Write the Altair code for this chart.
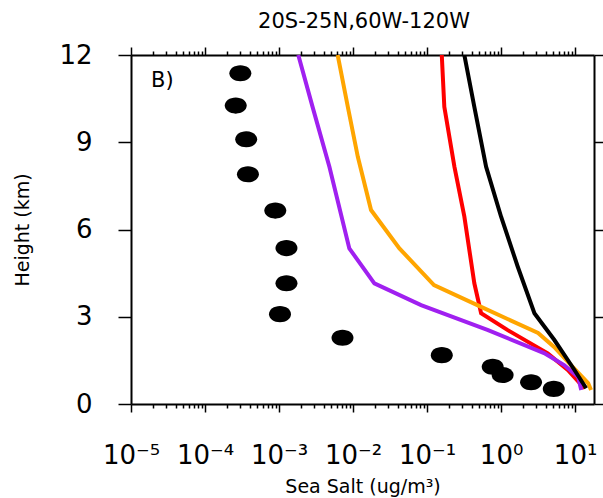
import json
import altair as alt
import pandas as pd

# ---------------- data ----------------
series_names = ["purple", "orange", "red", "black"]
series_colors = ["#A020F0", "#FFA500", "#FF0000", "#000000"]

purple_h = [12.0, 10.2, 8.15, 5.35, 4.15, 3.40, 2.54, 1.75, 1.34, 0.93, 0.48]
purple_v = [1.82e-3, 2.85e-3, 4.8e-3, 8.9e-3, 0.0194, 0.083, 0.667, 3.81, 7.1, 11.0, 12.1]

orange_h = [12.0, 10.22, 8.5, 6.67, 5.35, 4.09, 3.34, 2.44, 1.96, 1.34, 0.72, 0.48]
orange_v = [6.2e-3, 8.5e-3, 0.0116, 0.0175, 0.0423, 0.124, 0.537, 3.16, 5.2, 8.8, 15.0, 16.4]

red_h = [12.0, 10.22, 8.16, 6.44, 4.15, 3.12, 2.54, 1.74, 1.17, 0.54]
red_v = [0.158, 0.171, 0.234, 0.319, 0.435, 0.537, 1.23, 4.27, 7.96, 13.4]

black_h = [12.0, 10.22, 8.16, 6.44, 4.72, 3.12, 2.2, 1.17, 0.54]
black_v = [0.319, 0.435, 0.627, 1.0, 1.68, 2.82, 5.25, 9.8, 14.1]

obs_h = [11.37, 10.26, 9.10, 7.90, 6.65, 5.36, 4.15, 3.09, 2.28, 1.68, 1.28, 1.0, 0.75, 0.52]
obs_v = [3.0e-4, 2.6e-4, 3.6e-4, 3.8e-4, 8.9e-4, 1.26e-3, 1.26e-3, 1.03e-3, 7.2e-3,
         0.158, 0.77, 1.05, 2.54, 5.15]

x_tick_labels = ["10\u207b\u2075", "10\u207b\u2074", "10\u207b\u00b3", "10\u207b\u00b2",
                 "10\u207b\u00b9", "10\u2070", "10\u00b9"]
y_tick_values = [0, 3, 6, 9, 12]
title_text = "20S-25N,60W-120W"
panel_label = "B)"
x_title = "Sea Salt (ug/m\u00b3)"
y_title = "Height (km)"

# ---------------- tables ----------------
rows = []
for name, hs, vs in [("red", red_h, red_v), ("purple", purple_h, purple_v),
                     ("orange", orange_h, orange_v), ("black", black_h, black_v)]:
    for h, v in zip(hs, vs):
        rows.append({"series": name, "height": h, "value": v})
line_df = pd.DataFrame(rows)
obs_df = pd.DataFrame({"height": obs_h, "value": obs_v})

x_ticks = [float(f"{m}e{e}") for e in range(-5, 2) for m in range(1, 10)]
x_ticks = [t for t in x_ticks if t <= 18]

FONT = "DejaVu Sans"
major_test = "abs(datum.value / pow(10, round(log(datum.value) / LN10)) - 1) < 1e-6"
label_expr = (f"{major_test} ? {json.dumps(x_tick_labels, ensure_ascii=False)}"
              f"[round(log(datum.value) / LN10) + 5] : ''")
x_tick_size = {"condition": {"test": major_test, "value": 8}, "value": 4}

xscale = alt.Scale(type="log", domain=[1e-5, 18], nice=False)
yscale = alt.Scale(domain=[0, 12], nice=False, zero=False)

common = dict(domainColor="black", domainWidth=2, tickColor="black", tickWidth=1.5,
              grid=False, labelColor="black", titleColor="black",
              labelFont=FONT, titleFont=FONT, labelOverlap=False, labelFlush=False)

bottom_axis = alt.Axis(orient="bottom", values=x_ticks, labelExpr=label_expr,
                       tickSize=x_tick_size, labelFontSize=26, labelPadding=30,
                       title=x_title, titleFontSize=19, titleFontWeight="normal",
                       titlePadding=9, **common)
top_axis = alt.Axis(orient="top", values=x_ticks, labels=False, tickSize=x_tick_size,
                    title=None, **common)
left_axis = alt.Axis(orient="left", values=y_tick_values, tickSize=13, labelPadding=26,
                     labelFontSize=26, title=y_title, titleFontSize=19,
                     titleFontWeight="normal", titlePadding=26, **common)
right_axis = alt.Axis(orient="right", values=y_tick_values, tickSize=9, labels=False,
                      title=None, **common)

lines = alt.Chart(line_df).mark_line(strokeWidth=4, clip=True).encode(
    x=alt.X("value:Q", scale=xscale, axis=bottom_axis),
    y=alt.Y("height:Q", scale=yscale, axis=left_axis),
    color=alt.Color("series:N", scale=alt.Scale(domain=series_names, range=series_colors),
                    legend=None),
    order=alt.Order("height:Q"),
)

ellipse = "M-1,0A1,0.73,0,1,0,1,0A1,0.73,0,1,0,-1,0Z"
points = alt.Chart(obs_df).mark_point(shape=ellipse, size=484, filled=True,
                                      color="black", opacity=1).encode(
    x=alt.X("value:Q", scale=xscale, axis=top_axis),
    y=alt.Y("height:Q", scale=yscale, axis=right_axis),
)

title_mark = alt.Chart(pd.DataFrame({"t": [title_text]})).mark_text(
    font=FONT, fontSize=21, color="black", align="center", baseline="alphabetic"
).encode(x=alt.value(233), y=alt.value(-27), text="t:N")

label_mark = alt.Chart(pd.DataFrame({"t": [panel_label]})).mark_text(
    font=FONT, fontSize=21, color="black", align="left", baseline="alphabetic"
).encode(x=alt.value(20), y=alt.value(32), text="t:N")

chart = alt.layer(lines, points, title_mark, label_mark).resolve_axis(
    x="independent", y="independent"
).properties(
    width=463, height=349,
    padding={"left": 131, "top": 55, "right": 9, "bottom": 94},
    autosize=alt.AutoSizeParams(type="none"),
    background="white",
).configure_view(stroke=None)

chart.save("out.html", embed_options={"renderer": "svg", "actions": False})
